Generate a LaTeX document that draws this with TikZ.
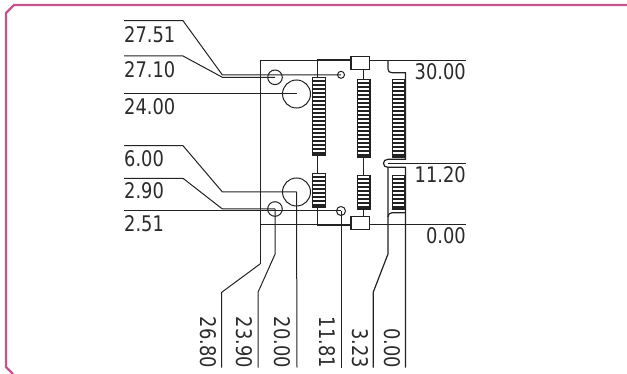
\documentclass[tikz,border=0pt]{standalone}
\usepackage{fontspec}
\setmainfont[FakeStretch=0.83]{DejaVu Sans}
\definecolor{framepink}{HTML}{C4538F}
\definecolor{inkgray}{HTML}{222222}
\definecolor{textgray}{HTML}{2B2B2B}

\tikzset{
    dimline/.style={draw=inkgray, line width=1pt},
    dimtext/.style={text=textgray, inner sep=0pt, font=\fontsize{21.5}{24}\selectfont},
    hole/.style={circle, draw=inkgray, line width=1pt, inner sep=0pt},
    latch/.style={draw=inkgray, line width=1.1pt, fill=white, inner sep=0pt, minimum width=18.5pt, minimum height=13pt},
    pinbody/.style={draw=inkgray, fill=inkgray, line width=0.8pt},
    pinslot/.style={fill=white},
}

% x left, x right, y top, number of slots
\newcommand{\pinblock}[4]{
    \draw[pinbody] (#1,#3) rectangle (#2,#3+4*#4+2);
    \foreach \n in {1,...,#4}
        \fill[pinslot] (#1+0.6,#3+4*\n-2.9) rectangle (#2-0.6,#3+4*\n-0.6);
}

\begin{document}
\begin{tikzpicture}[x=1pt, y=-1pt]
    \useasboundingbox (0,0) rectangle (627,374);

    \draw[framepink, line width=2.4pt] (627,5) -- (14,5) -- (6,13) -- (6,367) -- (13,374);

    % board outline
    \draw[dimline] (260,264) -- (260,61) -- (466,61);
    \draw[dimline] (260,225) -- (466,225);

    % pin rows
    \pinblock{312.5}{325.5}{77}{19}
    \pinblock{312.5}{325.5}{173}{8}
    \pinblock{357}{370}{79}{19}
    \pinblock{357}{370}{175}{8}
    \pinblock{392.5}{404.5}{79}{19}
    \pinblock{392.5}{404.5}{175}{8}

    % holes
    \node[hole, minimum size=14.6pt] (holeA) at (275,77.3) {};
    \node[hole, minimum size=28pt] (holeB) at (296.5,94) {};
    \node[hole, minimum size=28pt] (holeC) at (296.5,192) {};
    \node[hole, minimum size=14.6pt] (holeD) at (275,209) {};
    \node[hole, minimum size=7pt] (holeE) at (341,74.8) {};
    \node[hole, minimum size=9pt] (holeF) at (341,211) {};

    % latches
    \node[latch] (latchT) at (360.2,63.4) {};
    \node[latch] (latchB) at (360.2,222.7) {};

    % connector traces
    \draw[dimline, line width=1.4pt] (latchT.west |- 0,59.8) -- (317.3,59.8) -- (317.3,77);
    \draw[dimline, line width=1.4pt] (latchB.west |- 0,225.5) -- (317.3,225.5) -- (317.3,207);
    \draw[dimline] (317.3,155) -- (317.3,173);
    \draw[dimline] (latchT.south -| 363,0) -- (363,79);
    \draw[dimline] (363,157) -- (363,175);
    \draw[dimline] (363,209) -- (latchB.north -| 363,0);

    % right row outline
    \draw[dimline, line width=1.2pt] (388,61) -- (388,69) .. controls (388,71.5) and (389.5,72.7) .. (392,72.7) -- (405.5,72.7) -- (405.5,159.3) -- (388,159.3) .. controls (385,159.3) and (383.5,161) .. (383.5,163.3) .. controls (383.5,165.8) and (385,167.3) .. (388,167.3) -- (405.5,167.3) -- (405.5,367.5);
    \draw[dimline, line width=1.2pt] (388,167.3) -- (388,254) -- (373.3,292) -- (373.3,367.5);
    \draw[dimline, line width=1.2pt] (388,217) .. controls (388,214.5) and (389.5,212.7) .. (392,212.7) -- (405.5,212.7);
    \draw[dimline] (388,163.7) -- (466,163.7);

    % left dimensions
    \draw[dimline] (124,20.7) -- (183,20.7) -- (222.4,75) -- (holeE.center);
    \draw[dimline] (124,56) -- (183,56) -- (222.4,77.3) -- (holeA.center);
    \draw[dimline] (124,94) -- (holeB.center);
    \draw[dimline] (124,145.7) -- (183,145.7) -- (222.4,192) -- (holeC.center);
    \draw[dimline] (124,178.3) -- (183,178.3) -- (222.4,209) -- (holeD.center);
    \draw[dimline] (124,211) -- (holeF.center);

    % bottom dimensions
    \draw[dimline] (260,264) -- (221.7,292.3) -- (221.7,367.5);
    \draw[dimline] (holeD.center) -- (275,254.3) -- (258,292.3) -- (258,367.5);
    \draw[dimline] (holeC.center) -- (297,367.5);
    \draw[dimline] (holeF.center) -- (341,367.5);

    \node[dimtext, anchor=base west] (lblA) at (124,42.3) {27.51};
    \node[dimtext, anchor=base west] (lblB) at (124,77.7) {27.10};
    \node[dimtext, anchor=base west] (lblC) at (124,115) {24.00};
    \node[dimtext, anchor=base west] (lblD) at (124,166.7) {6.00};
    \node[dimtext, anchor=base west] (lblE) at (124,199) {2.90};
    \node[dimtext, anchor=base west] (lblF) at (124,231.7) {2.51};

    \node[dimtext, anchor=base east] (lblG) at (466,80) {30.00};
    \node[dimtext, anchor=base east] (lblH) at (466,182.7) {11.20};
    \node[dimtext, anchor=base east] (lblI) at (466,243.3) {0.00};

    \node[dimtext, rotate=-90, anchor=base east] (lblJ) at (200.5,368) {26.80};
    \node[dimtext, rotate=-90, anchor=base east] (lblK) at (236.5,368) {23.90};
    \node[dimtext, rotate=-90, anchor=base east] (lblL) at (274.5,368) {20.00};
    \node[dimtext, rotate=-90, anchor=base east] (lblM) at (319.5,368) {11.81};
    \node[dimtext, rotate=-90, anchor=base east] (lblN) at (352,368) {3.23};
    \node[dimtext, rotate=-90, anchor=base east] (lblO) at (384.5,368) {0.00};

\end{tikzpicture}
\end{document}
